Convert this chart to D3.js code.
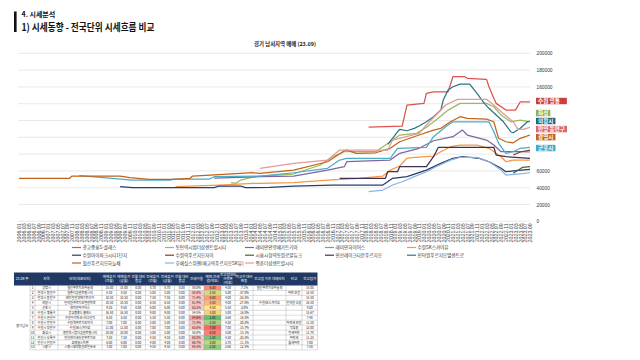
<!DOCTYPE html>
<html><head><meta charset="utf-8">
<script src="https://cdn.jsdelivr.net/npm/d3@7"></script>
<style>body{margin:0;background:#fff;} svg{display:block;font-family:"Noto Sans CJK KR","Noto Sans",sans-serif;}</style>
</head><body><svg id="c" width="640" height="360"></svg>
<script>
// ---------- chart data ----------
const seriesNames = ["광교중흥S-클래스","동탄역시범더샵센트럴시티","래미안안양메가트리아","래미안하이어스","수원SK스카이뷰",
  "수원아이파크시티1단지","수원역푸르지오자이","시흥시청역동원로얄듀크","안산레이크타운푸르지오","인덕원푸르지오엘센트로",
  "철산푸르지오하늘채","호매실스위첸(매교역푸르지오SK뷰)","평촌더샵센트럴시티"];
const seriesColors = ["#d9534f","#9bbb59","#8064a2","#4bacc6","#f79646","#1f3f6e","#8b3a1e","#4f6228","#3f3151","#2a7488","#c4621a","#8db3e2","#e39a9a"];

const gwanggyo = [["2018-02",112000],["2019-04",113400],["2019-06",138400],["2020-01",140400],["2020-02",152300],["2020-05",154200],["2020-11",154200],["2021-01",172100],["2021-06",172100],["2021-07",170200],["2022-03",169000],["2022-04",160200],["2022-06",146400],["2022-07",140400],["2022-11",132400],["2023-03",132400],["2023-05",142300],["2023-09",142300]];
const dongtan = [["2013-05",45900],["2013-07",45200],["2013-09",49100],["2014-01",51900],["2014-05",53900],["2015-07",56300],["2016-06",67000],["2016-11",76900],["2017-04",82800],["2018-05",82800],["2018-11",94700],["2019-03",102700],["2019-10",104700],["2020-02",111900],["2020-06",120500],["2020-11",132400],["2021-04",140400],["2022-03",140400],["2022-06",136400],["2022-09",126500],["2023-01",118500],["2023-05",120500],["2023-09",118500]];
const megatria = [["2012-10",51500],["2014-05",53100],["2015-07",53900],["2016-09",61000],["2017-04",65000],["2017-05",70900],["2018-11",72900],["2019-03",80900],["2019-11",86900],["2020-05",95900],["2021-01",100700],["2021-05",108600],["2021-07",102700],["2022-03",96700],["2022-06",90800],["2022-09",82800],["2023-05",82800],["2023-09",82500]];
const hiers = [["2008-02",54300],["2008-12",51900],["2009-12",49100],["2011-04",49100],["2011-05",50300],["2012-08",50300],["2012-10",53100],["2014-05",53900],["2015-07",57800],["2016-09",63100],["2017-02",72900],["2017-05",75000],["2018-11",75000],["2019-02",86900],["2020-02",88100],["2020-05",100700],["2020-10",112600],["2021-01",118500],["2022-04",118500],["2022-06",106600],["2022-08",92800],["2022-11",80900],["2023-02",82800],["2023-05",86900],["2023-09",88100]];
const skyview = [["2011-06",41200],["2012-12",43200],["2014-02",45200],["2014-05",45200],["2015-07",45900],["2016-09",49100],["2017-10",51200],["2018-08",53900],["2018-11",61000],["2019-03",65800],["2019-06",75000],["2019-09",76200],["2020-05",77700],["2020-08",82800],["2020-12",88800],["2021-04",90800],["2021-11",90800],["2022-04",86900],["2022-09",76900],["2022-11",70900],["2023-02",72900],["2023-09",72900]];
const ipark = [["2009-07",41200],["2009-12",40000],["2012-10",40000],["2012-12",42000],["2013-09",42000],["2013-11",40000],["2014-09",40500],["2015-07",42000],["2016-11",43200],["2018-08",43200],["2018-12",51200],["2019-06",53100],["2019-10",57100],["2020-02",61000],["2020-08",69000],["2021-01",75000],["2021-05",76900],["2021-12",75000],["2022-04",70900],["2022-09",63100],["2022-11",59000],["2023-02",59900],["2023-09",61900]];
const suwonStation = [["2023-02",78900],["2023-05",82500],["2023-09",84800]];
const siheung = [["2023-02",57100],["2023-06",64300],["2023-09",65000]];
const ansan = [["2017-02",51200],["2018-09",51200],["2018-10",59000],["2019-02",59000],["2019-03",65000],["2020-02",65000],["2020-05",76900],["2020-07",88100],["2022-06",88100],["2022-07",78900],["2022-11",76900],["2023-09",75000]];
const indeogwon = [["2018-10",91600],["2018-12",98800],["2019-02",106600],["2019-03",109500],["2019-06",107800],["2019-09",110700],["2019-11",113400],["2020-02",118500],["2020-05",124500],["2020-08",132400],["2020-09",144300],["2020-11",156200],["2021-01",160200],["2021-04",163400],["2021-08",163400],["2021-11",152300],["2022-02",140400],["2022-04",134500],["2022-07",126500],["2022-10",118500],["2023-01",106600],["2023-02",105400],["2023-05",110700],["2023-08",118500],["2023-09",119400]];
const cheolsan = [["2006-01",51200],["2007-10",51200],["2007-11",53900],["2009-07",53900],["2009-11",51900],["2010-07",50000],["2011-05",50000],["2011-12",51200],["2012-01",53900],["2012-12",55500],["2014-02",57800],["2014-05",57100],["2015-07",61000],["2016-09",70900],["2017-04",84000],["2017-05",84800],["2017-09",80900],["2018-05",81600],["2018-11",86900],["2019-03",94700],["2019-11",102700],["2020-05",108600],["2020-08",110700],["2020-12",118500],["2021-04",124500],["2021-07",122600],["2022-03",121700],["2022-06",118500],["2022-07",108600],["2022-08",98800],["2022-11",94700],["2023-02",93500],["2023-05",98800],["2023-09",102700]];
const hoMaesil = [["2018-02",35200],["2018-08",37200],["2018-12",43200],["2019-04",47100],["2019-09",53100],["2020-02",59000],["2020-06",65000],["2020-12",72900],["2021-04",76200],["2021-11",76200],["2022-04",70900],["2022-09",61000],["2022-11",55100],["2023-04",56300],["2023-09",57800]];
const pyeongchon = [["2014-05",63100],["2015-07",69000],["2016-09",72900],["2016-11",77700],["2017-02",84800],["2018-10",84800],["2018-12",96700],["2019-11",104700],["2020-02",114600],["2020-06",126500],["2020-10",138400],["2021-03",145200],["2022-03",145200],["2022-06",138400],["2022-09",130400],["2023-02",118500],["2023-04",109500],["2023-06",109500],["2023-09",111900]];

const seriesValues = [gwanggyo,dongtan,megatria,hiers,skyview,ipark,suwonStation,siheung,ansan,indeogwon,cheolsan,hoMaesil,pyeongchon];
const yGridValues = [0,20000,40000,60000,80000,100000,120000,140000,160000,180000,200000];
// labels of 80000-140000 are hidden behind the end labels in the reference
const yLabelValues = [0,20000,40000,60000,160000,180000,200000];
const chartTitle = "경기 남서지역 매매 (23.09)";
const endLabels = ["수원 영통","화성","의왕시","안양 동안구","광명시","군포시"];
const endLabelValues = [143200,128900,119400,109800,100200,87200];
const endLabelColors = ["#c9403f","#8db54a","#1f6a7e","#d9686b","#c4621a","#45a8c8"];

// ---------- table data ----------
const tableHeaders = ["23.09 주","","지역","단지(대표단지)","매매호가\n(전월)","매매호가\n(금월)","전월 대비\n증감","전세호가\n(전월)","전세호가\n(금월)","전월 대비\n증감","전세가율","매매-전세\n갭(억원)","전고점대비\n하락폭\n(억원)","최고가 대비\n변동","전고점 이후 대체단지","비고","전고점가"];
const tableRegion = ["광명시","안양시 동안구","안양시 동안구","의왕시","군포시","수원시 영통구","수원시 권선구","수원시 팔달구","수원시 장안구","화성시","안산시 상록구","안산시 단원구","시흥시"];
const tableComplex = ["철산푸르지오하늘채","평촌더샵센트럴시티","래미안안양메가트리아","인덕원푸르지오엘센트로","래미안하이어스","광교중흥S-클래스","수원아이파크시티1단지","수원역푸르지오자이","수원SK스카이뷰","동탄역시범더샵센트럴시티","안산레이크타운푸르지오","호매실스위첸","시흥시청역동원로얄듀크"];
const salePrev = [15.00,8.50,10.50,10.50,9.50,16.50,6.50,7.00,11.00,10.00,7.50,6.00,7.00];
const saleCur  = [15.00,8.50,10.50,10.50,9.50,16.50,6.50,7.00,11.00,10.00,7.50,6.00,7.00];
const jeonsePrev = [8.70,5.00,7.50,6.50,6.00,9.00,5.50,5.00,7.00,5.00,4.50,4.00,4.50];
const jeonseCur  = [8.70,5.00,7.50,6.50,6.00,9.00,5.50,5.00,7.00,5.00,4.50,4.00,4.50];
const jeonseRate = [58.0,58.8,71.4,61.9,63.2,54.5,84.6,71.4,63.6,50.0,60.0,66.7,64.3];
const gapValue = [6.30,3.50,6.00,5.50,4.50,5.00,1.00,2.50,7.00,6.50,1.50,3.00,2.00];
const peakDrop = [4.00,5.00,4.00,4.00,5.50,5.00,3.60,4.30,7.00,5.00,4.30,3.70,2.60];
const peakChange = [-7.1,-37.0,-33.3,-27.6,-3.0,-16.0,-16.3,-30.8,-15.7,-15.1,-33.3,-11.1,-12.5];
const altComplex = ["철산푸르지오하늘채","","","수원SK스카이뷰","","","","","","","","",""];
const tableNote = ["","하락 보합","","인덕원 상승","","","","하락세 보합","적정용","전세하락","하락세","월세하락",""];
const peakPrice = [15.00,13.50,15.50,16.50,9.00,15.67,7.48,11.50,13.00,11.78,11.25,7.00,7.50];

// ---------- drawing ----------
const svg = d3.select("#c");
const parse = d3.timeParse("%Y-%m");

// slide header
svg.append("rect").attr("x",14).attr("y",11.5).attr("width",2.6).attr("height",20.5).attr("fill","#111");
svg.append("text").attr("x",21.5).attr("y",16.6).attr("font-size",7).attr("font-weight",700).attr("fill","#111").text("4. 시세분석");
svg.append("text").attr("x",21.5).attr("y",31).attr("font-size",10).attr("font-weight",700).attr("fill","#111")
  .attr("textLength",133).attr("lengthAdjust","spacingAndGlyphs").text("1) 시세동향 - 전국단위 시세흐름 비교");

// chart
const x = d3.scaleTime().domain([parse("2006-01"), parse("2023-09")]).range([19, 530]);
const y = d3.scaleLinear().domain([0, 200000]).range([221.3, 53.3]);

svg.append("text").attr("x",285).attr("y",46).attr("text-anchor","middle").attr("font-size",5.4).attr("font-weight",700).attr("fill","#222").text(chartTitle);

const grid = svg.append("g");
grid.selectAll("line").data(yGridValues).join("line")
  .attr("x1",18).attr("x2",530).attr("y1",d=>y(d)).attr("y2",d=>y(d))
  .attr("stroke","#e3e3e3").attr("stroke-width",0.8);

const yAxis = svg.append("g").attr("transform","translate(530,0)")
  .call(d3.axisRight(y).tickValues(yLabelValues).tickSize(0).tickPadding(6.5).tickFormat(d3.format("d")));
yAxis.select(".domain").remove();
yAxis.selectAll("text").attr("font-size",4.8).attr("fill","#333").attr("font-family","Liberation Sans, Arial, sans-serif");

const xTickDates = d3.timeMonth.every(2).range(parse("2006-01"), d3.timeMonth.offset(parse("2023-09"),1));
const xAxis = svg.append("g").attr("transform","translate(0,221.3)")
  .call(d3.axisBottom(x).tickValues(xTickDates).tickSize(0).tickPadding(0).tickFormat(d3.timeFormat("%Y.%m")));
xAxis.select(".domain").remove();
xAxis.selectAll("text").attr("font-size",5.3).attr("fill","#444").attr("font-family","Liberation Sans, Arial, sans-serif")
  .attr("text-anchor","end").attr("dy",0).attr("transform","translate(1.8,2) rotate(-90)")
  .attr("y",0).attr("x",0);

const line = d3.line().x(d=>x(parse(d[0]))).y(d=>y(d[1]));
svg.append("g").selectAll("path").data(seriesValues).join("path")
  .attr("d",line).attr("fill","none").attr("stroke",(d,i)=>seriesColors[i]).attr("stroke-width",1.25).attr("stroke-linejoin","round");

// end labels
const lab = svg.append("g").selectAll("g").data(endLabels).join("g")
  .attr("transform",(d,i)=>`translate(536,${y(endLabelValues[i])})`);
lab.append("text").attr("x",2).attr("y",0).attr("dy","0.36em").attr("font-size",5.6).attr("font-weight",700).attr("fill","#fff").text(d=>d);
lab.each(function(d,i){
  const g=d3.select(this); const w=g.select("text").node().getComputedTextLength();
  g.insert("rect","text").attr("x",0).attr("y",-3.2).attr("width",w+4+(i===0?5:0)).attr("height",6.4).attr("fill",endLabelColors[i]);
});

// legend
const legCols=[72,165,245,325,407], legRows=[247.5,255.2,263];
const leg = svg.append("g").selectAll("g").data(seriesNames).join("g")
  .attr("transform",(d,i)=>`translate(${legCols[i%5]},${legRows[Math.floor(i/5)]})`);
leg.append("line").attr("x1",0).attr("x2",9).attr("stroke",(d,i)=>seriesColors[i]).attr("stroke-width",1.2);
leg.append("text").attr("x",10.5).attr("dy","0.35em").attr("font-size",4.6).attr("fill","#333").text(d=>d);

// table
const colEdges=[14,30,35,58,102,116.5,131,145.5,160,174.5,189,204,221,235,253,286,302,317.5];
const hTop=272.5, hH=13, rTop=hTop+hH, rH=4.95, nRows=tableRegion.length;
const tb = svg.append("g");
tb.append("rect").attr("x",colEdges[0]).attr("y",hTop).attr("width",colEdges[17]-colEdges[0]).attr("height",hH).attr("fill","#1f3864");
tableHeaders.forEach((h,ci)=>{
  const cx=(colEdges[ci]+colEdges[ci+1])/2; const lines=h.split("\n");
  const t=tb.append("text").attr("x",cx).attr("y",hTop+hH/2-(lines.length-1)*2).attr("text-anchor","middle").attr("dy","0.35em")
    .attr("font-size",3.5).attr("fill","#fff");
  lines.forEach((l,k)=>t.append("tspan").attr("x",cx).attr("dy",k===0?"0.35em":"4").text(l));
});
const rateColor = v => v>=80 ? "#f4a4a4" : v>=58.5 ? "#fbc9c9" : "none";
const gapColor = d3.scaleLinear().domain([1,4.5,7]).range(["#63be7b","#ffeb84","#f8696b"]);
const f2 = d3.format(".2f");
const rowCells = d3.range(nRows).map(i=>[
  null, String(i+1), tableRegion[i], tableComplex[i], f2(salePrev[i]), f2(saleCur[i]), f2(saleCur[i]-salePrev[i]),
  f2(jeonsePrev[i]), f2(jeonseCur[i]), f2(jeonseCur[i]-jeonsePrev[i]), jeonseRate[i].toFixed(1)+"%", f2(gapValue[i]),
  f2(peakDrop[i]), peakChange[i].toFixed(1)+"%", altComplex[i], tableNote[i], f2(peakPrice[i])
]);
rowCells.forEach((cells,i)=>{
  const ry=rTop+i*rH;
  cells.forEach((c,ci)=>{
    if(ci===0) return;
    let fill="none";
    if(ci===10) fill=rateColor(jeonseRate[i]);
    if(ci===11) fill=gapColor(gapValue[i]);
    if(fill!=="none") tb.append("rect").attr("x",colEdges[ci]).attr("y",ry).attr("width",colEdges[ci+1]-colEdges[ci]).attr("height",rH).attr("fill",fill);
    if(c) tb.append("text").attr("x",(colEdges[ci]+colEdges[ci+1])/2).attr("y",ry+rH/2).attr("dy","0.35em")
      .attr("text-anchor","middle").attr("font-size",3.1).attr("fill","#222").text(c);
  });
});
tb.append("text").attr("x",(colEdges[0]+colEdges[1])/2).attr("y",326).attr("dy","0.35em").attr("text-anchor","middle").attr("font-size",3.3).attr("fill","#222").text("경기남서");
const tBottom=rTop+nRows*rH;
d3.range(nRows+1).forEach(i=>{
  tb.append("line").attr("x1",colEdges[1]).attr("x2",colEdges[17]).attr("y1",rTop+i*rH).attr("y2",rTop+i*rH).attr("stroke","#9a9a9a").attr("stroke-width",0.35);
});
colEdges.slice(1,18).forEach(cx=>{
  tb.append("line").attr("x1",cx).attr("x2",cx).attr("y1",rTop).attr("y2",tBottom).attr("stroke","#9a9a9a").attr("stroke-width",0.35);
});
</script></body></html>
